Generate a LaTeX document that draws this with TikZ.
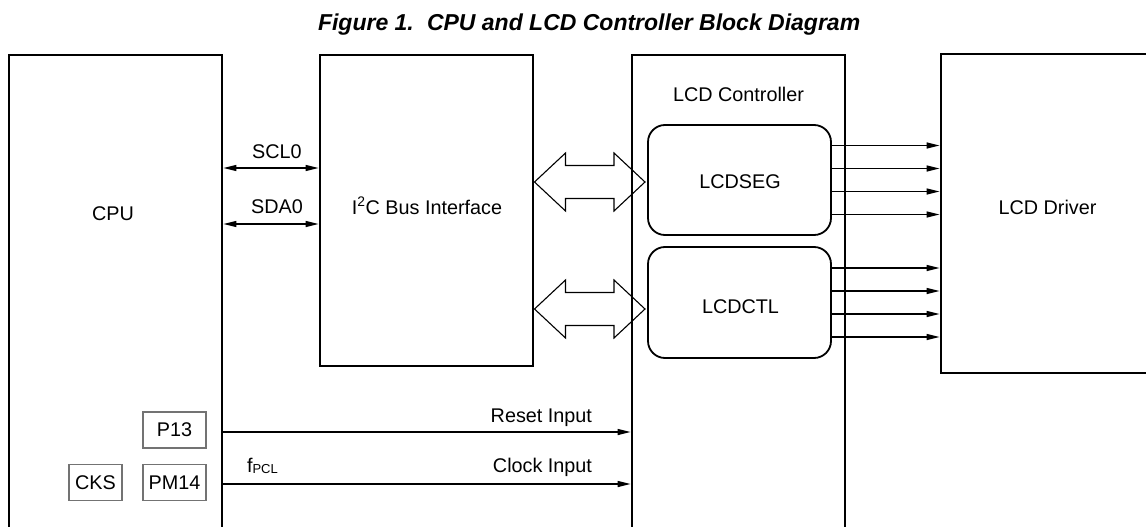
\documentclass[tikz,border=0pt]{standalone}
\usepackage{fontspec}
\setmainfont{Liberation Sans}
\usetikzlibrary{arrows.meta,calc}

\newcommand{\busarrow}[2]{% hollow two-way bus arrow between tips #1 and #2
  \draw[busline] (#1) -- ++(31,-29) -- ++(0,12.5)
    -- ($(#2)+(-31,-16.5)$) -- ++(0,-12.5) -- (#2)
    -- ++(-31,29) -- ++(0,-12.5)
    -- ($(#1)+(31,16.5)$) -- ++(0,12.5) -- cycle;}

\tikzset{
  area/.style={rectangle, inner sep=0pt, outer sep=0pt, anchor=north west},
  blockline/.style={line width=2.8pt, line join=miter},
  subblock/.style={area, draw, line width=1.8pt, rounded corners=17pt},
  regbox/.style={rectangle, draw=black!55, line width=1.3pt, inner sep=0pt,
    minimum width=63pt, minimum height=36pt, font=\body},
  txt/.style={inner sep=0pt, outer sep=0pt, font=\body},
  busline/.style={line width=1.1pt, line join=miter},
  sig/.style={line width=1.5pt, -{Triangle[length=13pt,width=6pt]}},
  sigboth/.style={line width=1.5pt,
    {Triangle[length=13pt,width=6pt]}-{Triangle[length=13pt,width=6pt]}},
}
\newcommand{\body}{\fontsize{19.8}{24}\selectfont}
\newcommand{\subfnt}{\fontsize{13}{15}\selectfont}
\newcommand{\titlefnt}{\fontsize{23}{27}\selectfont\bfseries\itshape}

\begin{document}
\begin{tikzpicture}[x=1pt,y=-1pt]
\useasboundingbox (0,0) rectangle (1146,527);

% title
\node[txt, font=\titlefnt, anchor=base west] (fig) at (318,31) {Figure 1.};
\node[txt, font=\titlefnt, anchor=base west] (title) at (427,31)
  {CPU and LCD Controller Block Diagram};

% main blocks
\node[area, minimum width=213pt, minimum height=490pt] (cpu) at (9,55) {};
\node[area, draw, blockline, minimum width=213pt, minimum height=311pt] (i2c) at (320,55) {};
\node[area, minimum width=213pt, minimum height=490pt] (lcdc) at (632,55) {};
\node[area, minimum width=230pt, minimum height=319pt] (drv) at (941,54) {};

\draw[blockline] (cpu.south west) -- (cpu.north west) -- (cpu.north east) -- (cpu.south east);
\draw[blockline] (lcdc.south west) -- (lcdc.north west) -- (lcdc.north east) -- (lcdc.south east);
\draw[blockline] (drv.north east) -- (drv.north west) -- (drv.south west) -- (drv.south east);

% LCD controller sub-blocks
\node[subblock, minimum width=183pt, minimum height=110pt] (seg) at (648,125) {};
\node[subblock, minimum width=183pt, minimum height=111pt] (ctl) at (648,247) {};

% block labels
\node[txt, anchor=base] (cpuT) at (113,220) {CPU};
\node[txt, anchor=base] (i2cT) at (427,214) {I\textsuperscript{2}C Bus Interface};
\node[txt, anchor=base] (lcdcT) at (738.5,101) {LCD Controller};
\node[txt, anchor=base] (segT) at (740,188) {LCDSEG};
\node[txt, anchor=base] (ctlT) at (740.5,313) {LCDCTL};
\node[txt, anchor=base] (drvT) at (1047.5,214) {LCD Driver};

% register boxes in the CPU
\node[regbox] (p13) at (174.5,430) {P13};
\node[regbox] (pm14) at (174.5,482.5) {PM14};
\node[regbox, minimum width=53pt] (cks) at (95.5,482.5) {CKS};

% I2C lines
\coordinate (scl) at (0,168);
\coordinate (sda) at (0,224);
\draw[sigboth, shorten <=1.4pt, shorten >=1.4pt] (cpu.east |- scl) -- (i2c.west |- scl);
\draw[sigboth, shorten <=1.4pt, shorten >=1.4pt] (cpu.east |- sda) -- (i2c.west |- sda);
\node[txt, anchor=base] (sclT) at (277,158) {SCL0};
\node[txt, anchor=base] (sdaT) at (277,213) {SDA0};

% bus arrows between I2C interface and the controller blocks
\coordinate (bus1) at (0,182);
\coordinate (bus2) at (0,309);
\coordinate (b1l) at ($(i2c.east |- bus1)+(1.5,0)$);
\coordinate (b1r) at ($(seg.west |- bus1)+(-3,0)$);
\coordinate (b2l) at ($(i2c.east |- bus2)+(1.5,0)$);
\coordinate (b2r) at ($(ctl.west |- bus2)+(-3,0)$);
\busarrow{b1l}{b1r}
\busarrow{b2l}{b2r}

% segment and control outputs to the driver
\foreach \d [count=\i] in {-34.5,-11.5,11.5,34.5} {
  \coordinate (so\i) at ($(seg.east)+(0,\d)$);
  \draw[sig, shorten >=1.4pt] (so\i) -- (so\i -| drv.west);
  \coordinate (co\i) at ($(ctl.east)+(0,\d)$);
  \draw[sig, shorten >=1.4pt] (co\i) -- (co\i -| drv.west);
}

% reset and clock inputs
\coordinate (rst) at (0,432);
\coordinate (clk) at (0,484);
\draw[sig, shorten >=1.4pt] (cpu.east |- rst) -- (lcdc.west |- rst);
\draw[sig, shorten >=1.4pt] (cpu.east |- clk) -- (lcdc.west |- clk);
\node[txt, anchor=base east] (rstT) at (592,422) {Reset Input};
\node[txt, anchor=base east] (clkT) at (592,472) {Clock Input};
\node[txt, anchor=base west] (fpcl) at (247,472) {f\raisebox{-1.5pt}{\subfnt PCL}};
\end{tikzpicture}
\end{document}
